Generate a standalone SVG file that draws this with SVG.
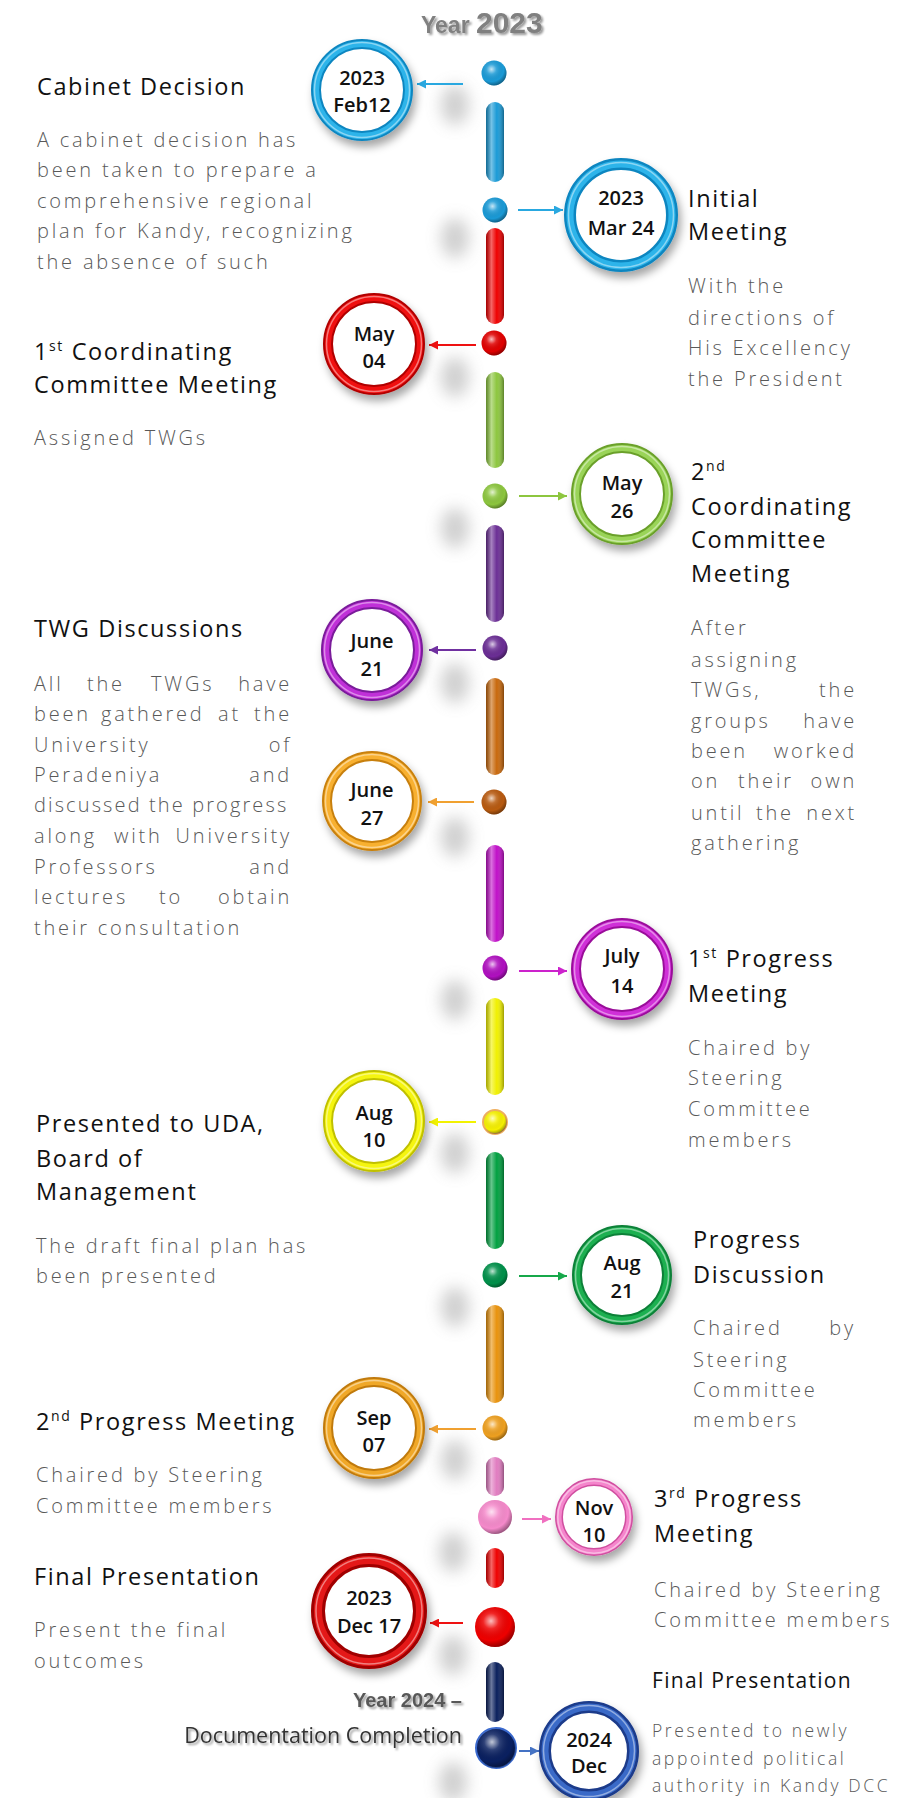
<svg xmlns="http://www.w3.org/2000/svg" width="922" height="1798" viewBox="0 0 922 1798">
<defs>
<style>
.h{font-family:"Open Sans","Liberation Sans",sans-serif;font-size:23.5px;letter-spacing:1.6px;fill:#111}
.h2{font-family:"Open Sans","Liberation Sans",sans-serif;font-size:21px;letter-spacing:1.3px;fill:#111}
.b{font-family:"Open Sans","Liberation Sans",sans-serif;font-weight:300;font-size:20px;letter-spacing:2.8px;fill:#595959}
.bs{font-family:"Open Sans","Liberation Sans",sans-serif;font-weight:300;font-size:17.5px;letter-spacing:2.6px;fill:#595959}
.e{text-anchor:end}
.d{font-family:"Open Sans","Liberation Sans",sans-serif;font-weight:600;font-size:20px;fill:#111;text-anchor:middle}
.sup{font-size:14px}
.yr{font-family:"Liberation Sans",Arial,sans-serif;font-weight:bold;fill:#808080}
.ring{fill:#fff;filter:url(#sh)}
.hl{fill:none;stroke:#fff;stroke-opacity:.45;stroke-width:1.5}
.pill-sh{fill:url(#pillShade)}
.dot-sh{fill:url(#dotShade)}
.blob{fill:#888;opacity:.4;filter:url(#blur)}
.arr{stroke-width:2;fill:none}
</style>
<filter id="sh" x="-30%" y="-30%" width="160%" height="170%">
<feDropShadow dx="3" dy="6" stdDeviation="4" flood-color="#000" flood-opacity=".35"/>
</filter>
<filter id="blur" x="-200%" y="-100%" width="500%" height="300%">
<feGaussianBlur stdDeviation="8"/>
</filter>
<filter id="ts" x="-10%" y="-30%" width="120%" height="160%">
<feDropShadow dx="2" dy="2" stdDeviation="1.2" flood-color="#000" flood-opacity=".4"/>
</filter>
<linearGradient id="pillShade" x1="0" y1="0" x2="1" y2="0">
<stop offset="0" stop-color="#000" stop-opacity=".3"/>
<stop offset=".3" stop-color="#fff" stop-opacity=".4"/>
<stop offset=".6" stop-color="#fff" stop-opacity="0"/>
<stop offset="1" stop-color="#000" stop-opacity=".35"/>
</linearGradient>
<radialGradient id="dotShade" cx=".4" cy=".35" r=".65">
<stop offset="0" stop-color="#fff" stop-opacity=".75"/>
<stop offset=".3" stop-color="#fff" stop-opacity=".15"/>
<stop offset=".75" stop-color="#000" stop-opacity="0"/>
<stop offset="1" stop-color="#000" stop-opacity=".35"/>
</radialGradient>
<marker id="mBlue" viewBox="0 0 10 10" refX="10" refY="5" markerWidth="9" markerHeight="9" markerUnits="userSpaceOnUse" orient="auto"><path d="M0,0L10,5L0,10z" fill="#29a8e0"/></marker>
<marker id="mRed" viewBox="0 0 10 10" refX="10" refY="5" markerWidth="9" markerHeight="9" markerUnits="userSpaceOnUse" orient="auto"><path d="M0,0L10,5L0,10z" fill="#ee1111"/></marker>
<marker id="mLg" viewBox="0 0 10 10" refX="10" refY="5" markerWidth="9" markerHeight="9" markerUnits="userSpaceOnUse" orient="auto"><path d="M0,0L10,5L0,10z" fill="#8dc63f"/></marker>
<marker id="mPur" viewBox="0 0 10 10" refX="10" refY="5" markerWidth="9" markerHeight="9" markerUnits="userSpaceOnUse" orient="auto"><path d="M0,0L10,5L0,10z" fill="#7030a0"/></marker>
<marker id="mOr" viewBox="0 0 10 10" refX="10" refY="5" markerWidth="9" markerHeight="9" markerUnits="userSpaceOnUse" orient="auto"><path d="M0,0L10,5L0,10z" fill="#f0a030"/></marker>
<marker id="mMag" viewBox="0 0 10 10" refX="10" refY="5" markerWidth="9" markerHeight="9" markerUnits="userSpaceOnUse" orient="auto"><path d="M0,0L10,5L0,10z" fill="#cc22cc"/></marker>
<marker id="mYel" viewBox="0 0 10 10" refX="10" refY="5" markerWidth="9" markerHeight="9" markerUnits="userSpaceOnUse" orient="auto"><path d="M0,0L10,5L0,10z" fill="#f2f200"/></marker>
<marker id="mGr" viewBox="0 0 10 10" refX="10" refY="5" markerWidth="9" markerHeight="9" markerUnits="userSpaceOnUse" orient="auto"><path d="M0,0L10,5L0,10z" fill="#16a84a"/></marker>
<marker id="mPink" viewBox="0 0 10 10" refX="10" refY="5" markerWidth="9" markerHeight="9" markerUnits="userSpaceOnUse" orient="auto"><path d="M0,0L10,5L0,10z" fill="#f070c0"/></marker>
<marker id="mNavy" viewBox="0 0 10 10" refX="10" refY="5" markerWidth="9" markerHeight="9" markerUnits="userSpaceOnUse" orient="auto"><path d="M0,0L10,5L0,10z" fill="#4472c4"/></marker>
</defs>

<rect width="922" height="1798" fill="#fff"/>

<g id="title" filter="url(#ts)">
<text x="421" y="33" class="yr" font-size="23">Year <tspan font-size="30">2023</tspan></text>
</g>

<g id="shadows">
<ellipse class="blob" cx="455" cy="105" rx="14" ry="20"/>
<ellipse class="blob" cx="455" cy="238" rx="14" ry="20"/>
<ellipse class="blob" cx="455" cy="377" rx="14" ry="20"/>
<ellipse class="blob" cx="455" cy="528" rx="14" ry="20"/>
<ellipse class="blob" cx="455" cy="683" rx="14" ry="20"/>
<ellipse class="blob" cx="455" cy="837" rx="14" ry="20"/>
<ellipse class="blob" cx="455" cy="1000" rx="14" ry="20"/>
<ellipse class="blob" cx="455" cy="1153" rx="14" ry="20"/>
<ellipse class="blob" cx="455" cy="1307" rx="14" ry="20"/>
<ellipse class="blob" cx="455" cy="1460" rx="14" ry="20"/>
<ellipse class="blob" cx="453" cy="1552" rx="14" ry="20"/>
<ellipse class="blob" cx="453" cy="1655" rx="14" ry="20"/>
<ellipse class="blob" cx="453" cy="1782" rx="14" ry="20"/>
</g>

<g id="timeline">
<rect x="486" y="102" width="18" height="80" rx="9" fill="#1a9ad6"/><rect class="pill-sh" x="486" y="102" width="18" height="80" rx="9"/>
<rect x="486" y="228" width="18" height="96" rx="9" fill="#ee0000"/><rect class="pill-sh" x="486" y="228" width="18" height="96" rx="9"/>
<rect x="486" y="372" width="18" height="96" rx="9" fill="#8cc63e"/><rect class="pill-sh" x="486" y="372" width="18" height="96" rx="9"/>
<rect x="486" y="525" width="18" height="97" rx="9" fill="#6b2e95"/><rect class="pill-sh" x="486" y="525" width="18" height="97" rx="9"/>
<rect x="486" y="678" width="18" height="97" rx="9" fill="#c8680c"/><rect class="pill-sh" x="486" y="678" width="18" height="97" rx="9"/>
<rect x="486" y="845" width="18" height="97" rx="9" fill="#c010c8"/><rect class="pill-sh" x="486" y="845" width="18" height="97" rx="9"/>
<rect x="486" y="998" width="18" height="97" rx="9" fill="#f0f000"/><rect class="pill-sh" x="486" y="998" width="18" height="97" rx="9"/>
<rect x="486" y="1152" width="18" height="97" rx="9" fill="#00a040"/><rect class="pill-sh" x="486" y="1152" width="18" height="97" rx="9"/>
<rect x="486" y="1305" width="18" height="98" rx="9" fill="#e8920c"/><rect class="pill-sh" x="486" y="1305" width="18" height="98" rx="9"/>
<rect x="486" y="1457" width="18" height="39" rx="9" fill="#e07cc0"/><rect class="pill-sh" x="486" y="1457" width="18" height="39" rx="9"/>
<rect x="486" y="1548" width="18" height="40" rx="9" fill="#ee0000"/><rect class="pill-sh" x="486" y="1548" width="18" height="40" rx="9"/>
<rect x="486" y="1662" width="18" height="60" rx="9" fill="#0a1f5c"/><rect class="pill-sh" x="486" y="1662" width="18" height="60" rx="9"/>
</g>

<g id="connectors">
<line class="arr" x1="463" y1="84" x2="417" y2="84" stroke="#29a8e0" marker-end="url(#mBlue)"/>
<line class="arr" x1="518" y1="210" x2="563" y2="210" stroke="#29a8e0" marker-end="url(#mBlue)"/>
<line class="arr" x1="476" y1="345" x2="429" y2="345" stroke="#ee1111" marker-end="url(#mRed)"/>
<line class="arr" x1="519" y1="496" x2="567" y2="496" stroke="#8dc63f" marker-end="url(#mLg)"/>
<line class="arr" x1="476" y1="650" x2="429" y2="650" stroke="#7030a0" marker-end="url(#mPur)"/>
<line class="arr" x1="474" y1="802" x2="428" y2="802" stroke="#f0a030" marker-end="url(#mOr)"/>
<line class="arr" x1="519" y1="971" x2="567" y2="971" stroke="#cc22cc" marker-end="url(#mMag)"/>
<line class="arr" x1="476" y1="1122" x2="429" y2="1122" stroke="#f2f200" marker-end="url(#mYel)"/>
<line class="arr" x1="519" y1="1276" x2="567" y2="1276" stroke="#16a84a" marker-end="url(#mGr)"/>
<line class="arr" x1="476" y1="1429" x2="429" y2="1429" stroke="#f0a030" marker-end="url(#mOr)"/>
<line class="arr" x1="522" y1="1519" x2="551" y2="1519" stroke="#f070c0" marker-end="url(#mPink)"/>
<line class="arr" x1="463" y1="1623" x2="430" y2="1623" stroke="#ee1111" marker-end="url(#mRed)"/>
<line class="arr" x1="519" y1="1751" x2="539" y2="1751" stroke="#4472c4" marker-end="url(#mNavy)"/>
</g>

<g id="node-feb12">
<circle cx="494" cy="73" r="12.5" fill="#1a9ad6"/><circle class="dot-sh" cx="494" cy="73" r="12.5"/>
<circle class="ring" cx="362" cy="90" r="46" stroke="#0e86c0" stroke-width="10"/>
<circle cx="362" cy="90" r="46" fill="none" stroke="#2db4ea" stroke-width="6"/>
<circle class="hl" cx="362" cy="90" r="47.5"/>
<text class="d" x="362" y="85">2023</text>
<text class="d" x="362" y="112">Feb12</text>
<text class="h" x="37" y="95">Cabinet Decision</text>
<text class="b" x="37" y="147">A cabinet decision has</text>
<text class="b" x="37" y="177">been taken to prepare a</text>
<text class="b" x="37" y="208">comprehensive regional</text>
<text class="b" x="37" y="238">plan for Kandy, recognizing</text>
<text class="b" x="37" y="269">the absence of such</text>
</g>

<g id="node-mar24">
<circle cx="495" cy="210" r="12.5" fill="#1a9ad6"/><circle class="dot-sh" cx="495" cy="210" r="12.5"/>
<circle class="ring" cx="621" cy="215" r="51" stroke="#0e86c0" stroke-width="12"/>
<circle cx="621" cy="215" r="51" fill="none" stroke="#2db4ea" stroke-width="7"/>
<circle class="hl" cx="621" cy="215" r="52.5"/>
<text class="d" x="621" y="205" font-size="21">2023</text>
<text class="d" x="621" y="235" font-size="21">Mar 24</text>
<text class="h" x="688" y="207">Initial</text>
<text class="h" x="688" y="240">Meeting</text>
<text class="b" x="688" y="293">With the</text>
<text class="b" x="688" y="325">directions of</text>
<text class="b" x="688" y="355">His Excellency</text>
<text class="b" x="688" y="386">the President</text>
</g>

<g id="node-may04">
<circle cx="494" cy="343" r="12.5" fill="#e00000"/><circle class="dot-sh" cx="494" cy="343" r="12.5"/>
<circle class="ring" cx="374" cy="344" r="46" stroke="#b00000" stroke-width="10"/>
<circle cx="374" cy="344" r="46" fill="none" stroke="#f01010" stroke-width="6"/>
<circle class="hl" cx="374" cy="344" r="47.5"/>
<text class="d" x="374" y="341">May</text>
<text class="d" x="374" y="368">04</text>
<text class="h" x="34" y="360">1<tspan class="sup" dy="-9">st</tspan><tspan dy="9"> Coordinating</tspan></text>
<text class="h" x="34" y="393">Committee Meeting</text>
<text class="b" x="34" y="445">Assigned TWGs</text>
</g>

<g id="node-may26">
<circle cx="495" cy="496" r="12.5" fill="#8cc63e"/><circle class="dot-sh" cx="495" cy="496" r="12.5"/>
<circle class="ring" cx="622" cy="494" r="46" stroke="#6aa02a" stroke-width="10"/>
<circle cx="622" cy="494" r="46" fill="none" stroke="#9ad458" stroke-width="6"/>
<circle class="hl" cx="622" cy="494" r="47.5"/>
<text class="d" x="622" y="490">May</text>
<text class="d" x="622" y="518">26</text>
<text class="h" x="691" y="480">2<tspan class="sup" dy="-9">nd</tspan></text>
<text class="h" x="691" y="515">Coordinating</text>
<text class="h" x="691" y="548">Committee</text>
<text class="h" x="691" y="582">Meeting</text>
<text class="b" x="691" y="635">After</text>
<text class="b" x="691" y="667">assigning</text>
<text class="b" x="691" y="697">TWGs,</text><text class="b e" x="857" y="697">the</text>
<text class="b" x="691" y="728">groups</text><text class="b e" x="857" y="728">have</text>
<text class="b" x="691" y="758">been</text><text class="b e" x="857" y="758">worked</text>
<text class="b" x="691" y="788">on</text><text class="b" x="738" y="788">their</text><text class="b e" x="857" y="788">own</text>
<text class="b" x="691" y="820">until</text><text class="b" x="756" y="820">the</text><text class="b e" x="857" y="820">next</text>
<text class="b" x="691" y="850">gathering</text>
</g>

<g id="node-june21">
<circle cx="495" cy="648" r="12.5" fill="#6b2e95"/><circle class="dot-sh" cx="495" cy="648" r="12.5"/>
<circle class="ring" cx="372" cy="650" r="46" stroke="#7a1a9a" stroke-width="10"/>
<circle cx="372" cy="650" r="46" fill="none" stroke="#c030d8" stroke-width="6"/>
<circle class="hl" cx="372" cy="650" r="47.5"/>
<text class="d" x="372" y="648">June</text>
<text class="d" x="372" y="676">21</text>
<text class="h" x="34" y="637">TWG Discussions</text>
<text class="b" x="34" y="691">All</text><text class="b" x="87" y="691">the</text><text class="b" x="151" y="691">TWGs</text><text class="b e" x="292" y="691">have</text>
<text class="b" x="34" y="721">been</text><text class="b" x="101" y="721">gathered</text><text class="b" x="218" y="721">at</text><text class="b e" x="292" y="721">the</text>
<text class="b" x="34" y="752">University</text><text class="b e" x="292" y="752">of</text>
<text class="b" x="34" y="782">Peradeniya</text><text class="b e" x="292" y="782">and</text>
<text class="b" x="34" y="812" textLength="255" lengthAdjust="spacing">discussed the progress</text>
<text class="b" x="34" y="843">along</text><text class="b" x="114" y="843">with</text><text class="b e" x="292" y="843">University</text>
<text class="b" x="34" y="874">Professors</text><text class="b e" x="292" y="874">and</text>
<text class="b" x="34" y="904">lectures</text><text class="b" x="159" y="904">to</text><text class="b e" x="292" y="904">obtain</text>
<text class="b" x="34" y="935">their consultation</text>
</g>

<g id="node-june27">
<circle cx="494" cy="802" r="12.5" fill="#b85a10"/><circle class="dot-sh" cx="494" cy="802" r="12.5"/>
<circle class="ring" cx="372" cy="801" r="45" stroke="#c88010" stroke-width="10"/>
<circle cx="372" cy="801" r="45" fill="none" stroke="#f8b030" stroke-width="6"/>
<circle class="hl" cx="372" cy="801" r="46.5"/>
<text class="d" x="372" y="797">June</text>
<text class="d" x="372" y="825">27</text>
</g>

<g id="node-july14">
<circle cx="495" cy="968" r="12.5" fill="#b010c0"/><circle class="dot-sh" cx="495" cy="968" r="12.5"/>
<circle class="ring" cx="622" cy="969" r="46" stroke="#9a109a" stroke-width="10"/>
<circle cx="622" cy="969" r="46" fill="none" stroke="#d030d8" stroke-width="6"/>
<circle class="hl" cx="622" cy="969" r="47.5"/>
<text class="d" x="622" y="963">July</text>
<text class="d" x="622" y="993">14</text>
<text class="h" x="688" y="967">1<tspan class="sup" dy="-9">st</tspan><tspan dy="9"> Progress</tspan></text>
<text class="h" x="688" y="1002">Meeting</text>
<text class="b" x="688" y="1055">Chaired by</text>
<text class="b" x="688" y="1085">Steering</text>
<text class="b" x="688" y="1116">Committee</text>
<text class="b" x="688" y="1147">members</text>
</g>

<g id="node-aug10">
<circle cx="495" cy="1122" r="12" fill="#f5f000" stroke="#f0b060" stroke-width="2"/><circle class="dot-sh" cx="495" cy="1122" r="12"/>
<circle class="ring" cx="374" cy="1121" r="46" stroke="#c0c000" stroke-width="10"/>
<circle cx="374" cy="1121" r="46" fill="none" stroke="#f5f510" stroke-width="6"/>
<circle class="hl" cx="374" cy="1121" r="47.5"/>
<text class="d" x="374" y="1120">Aug</text>
<text class="d" x="374" y="1147">10</text>
<text class="h" x="36" y="1132">Presented to UDA,</text>
<text class="h" x="36" y="1167">Board of</text>
<text class="h" x="36" y="1200">Management</text>
<text class="b" x="36" y="1253">The draft final plan has</text>
<text class="b" x="36" y="1283">been presented</text>
</g>

<g id="node-aug21">
<circle cx="495" cy="1275" r="12.5" fill="#00904a"/><circle class="dot-sh" cx="495" cy="1275" r="12.5"/>
<circle class="ring" cx="622" cy="1275" r="45" stroke="#0a8038" stroke-width="10"/>
<circle cx="622" cy="1275" r="45" fill="none" stroke="#1cb050" stroke-width="6"/>
<circle class="hl" cx="622" cy="1275" r="46.5"/>
<text class="d" x="622" y="1270">Aug</text>
<text class="d" x="622" y="1298">21</text>
<text class="h" x="693" y="1248">Progress</text>
<text class="h" x="693" y="1283">Discussion</text>
<text class="b" x="693" y="1335">Chaired</text><text class="b e" x="856" y="1335">by</text>
<text class="b" x="693" y="1367">Steering</text>
<text class="b" x="693" y="1397">Committee</text>
<text class="b" x="693" y="1427">members</text>
</g>

<g id="node-sep07">
<circle cx="495" cy="1428" r="12.5" fill="#eea020"/><circle class="dot-sh" cx="495" cy="1428" r="12.5"/>
<circle class="ring" cx="374" cy="1428" r="46" stroke="#c07a0a" stroke-width="10"/>
<circle cx="374" cy="1428" r="46" fill="none" stroke="#f0a828" stroke-width="6"/>
<circle class="hl" cx="374" cy="1428" r="47.5"/>
<text class="d" x="374" y="1425">Sep</text>
<text class="d" x="374" y="1452">07</text>
<text class="h" x="36" y="1430">2<tspan class="sup" dy="-9">nd</tspan><tspan dy="9"> Progress Meeting</tspan></text>
<text class="b" x="36" y="1482">Chaired by Steering</text>
<text class="b" x="36" y="1513">Committee members</text>
</g>

<g id="node-nov10">
<circle cx="495" cy="1517" r="17" fill="#f58acb"/><circle class="dot-sh" cx="495" cy="1517" r="17"/>
<circle class="ring" cx="594" cy="1517" r="35" stroke="#d050a0" stroke-width="8"/>
<circle cx="594" cy="1517" r="35" fill="none" stroke="#f585cc" stroke-width="5"/>
<circle class="hl" cx="594" cy="1517" r="36.2"/>
<text class="d" x="594" y="1515" font-size="19">Nov</text>
<text class="d" x="594" y="1542" font-size="19">10</text>
<text class="h" x="654" y="1507">3<tspan class="sup" dy="-9">rd</tspan><tspan dy="9"> Progress</tspan></text>
<text class="h" x="654" y="1542">Meeting</text>
<text class="b" x="654" y="1597">Chaired by Steering</text>
<text class="b" x="654" y="1627">Committee members</text>
</g>

<g id="node-dec17">
<circle cx="495" cy="1627" r="20" fill="#ee0000"/><circle class="dot-sh" cx="495" cy="1627" r="20"/>
<circle class="ring" cx="369" cy="1611" r="51" stroke="#a00000" stroke-width="14"/>
<circle cx="369" cy="1611" r="51" fill="none" stroke="#e41818" stroke-width="8"/>
<circle class="hl" cx="369" cy="1611" r="53"/>
<text class="d" x="369" y="1605" font-size="21">2023</text>
<text class="d" x="369" y="1633" font-size="21">Dec 17</text>
<text class="h" x="34" y="1585">Final Presentation</text>
<text class="b" x="34" y="1637">Present the final</text>
<text class="b" x="34" y="1668">outcomes</text>
</g>

<g id="node-dec2024">
<circle cx="496" cy="1748" r="20" fill="#0a2060" stroke="#3a6ad0" stroke-width="2"/><circle class="dot-sh" cx="496" cy="1748" r="20"/>
<circle class="ring" cx="589" cy="1751" r="44" stroke="#1a3a8a" stroke-width="12"/>
<circle cx="589" cy="1751" r="44" fill="none" stroke="#3a6ac8" stroke-width="7"/>
<circle class="hl" cx="589" cy="1751" r="45.5"/>
<text class="d" x="589" y="1747" font-size="21">2024</text>
<text class="d" x="589" y="1773" font-size="21">Dec</text>
<g filter="url(#ts)">
<text class="yr e" x="462" y="1707" font-size="20" style="fill:#595959">Year 2024 –</text>
<text class="e" x="462" y="1743" font-family="Open Sans, Liberation Sans, sans-serif" font-size="21.5" fill="#333">Documentation Completion</text>
</g>
<text class="h2" x="652" y="1688">Final Presentation</text>
<text class="bs" x="652" y="1737">Presented to newly</text>
<text class="bs" x="652" y="1765">appointed political</text>
<text class="bs" x="652" y="1792">authority in Kandy DCC</text>
</g>
</svg>
